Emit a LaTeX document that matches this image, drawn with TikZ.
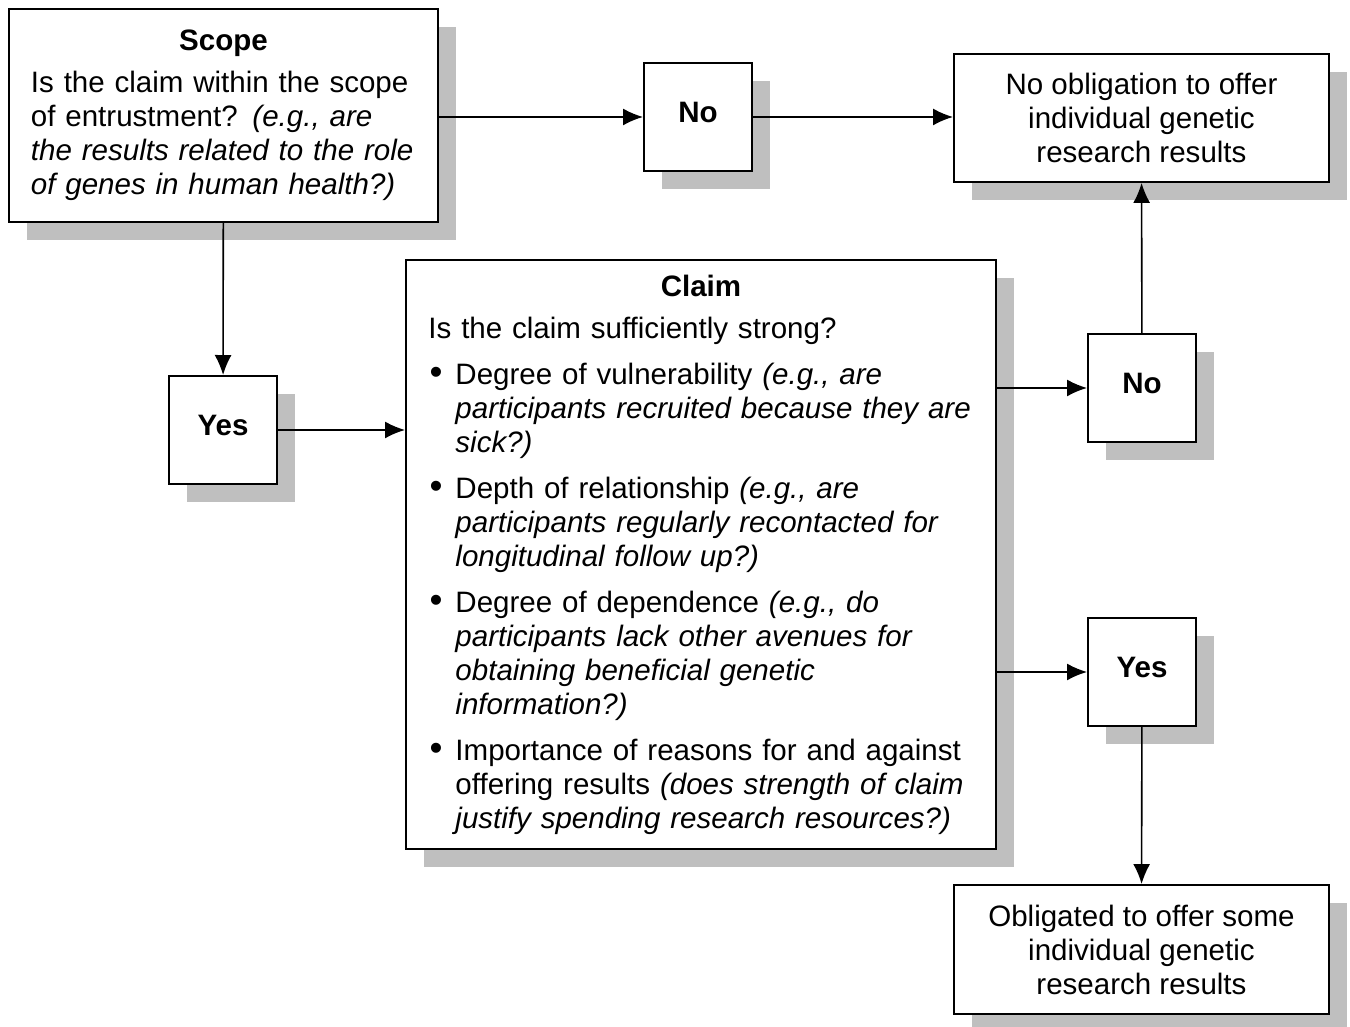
\documentclass[tikz,border=0pt]{standalone}
\usepackage{fontspec}
\setmainfont{Liberation Sans}
\usetikzlibrary{arrows.meta,shadows}

% bullet item with hanging indent
\newcommand{\bullitem}{\par\vspace{0.24cm}\leftskip=0.54cm\noindent\llap{{\fontsize{21}{21}\selectfont\textbullet}\hspace{0.26cm}}}

\begin{document}
\begin{tikzpicture}[font=\fontsize{16.8}{19.35}\selectfont]
    % Define styles for the boxes, the answers and the arrows
    \tikzstyle{box} = [rectangle, draw=black, line width=1.1pt, fill=white, anchor=north west, inner sep=0pt, general shadow={fill=black!25, shadow xshift=0.36cm, shadow yshift=-0.36cm}]
    \tikzstyle{answer} = [box, minimum width=2.16cm, minimum height=2.16cm, text height=0.42cm, text depth=0.2cm]
    \tikzstyle{arrow} = [line width=0.9pt, -{Latex[length=0.4cm, width=0.34cm]}]

    \useasboundingbox (0,0) rectangle (27,-20.52);

    % Draw the question boxes
    \node[box, minimum width=8.58cm, minimum height=4.26cm, text width=7.7cm, align=left] (scope) at (0.16,-0.16) {{\centering\textbf{Scope}\par}\vspace{0.16cm}Is the claim within the scope\\ of entrustment? \textit{(e.g., are}\\ \textit{the results related to the role}\\ \textit{of genes in human health?)}};
    \node[box, minimum width=11.8cm, minimum height=11.78cm, text width=10.9cm, align=left] (claim) at (8.10,-5.18) {{\centering\textbf{Claim}\par}\vspace{0.16cm}Is the claim sufficiently strong?
        \bullitem Degree of vulnerability \textit{(e.g., are}\\ \textit{participants recruited because they are}\\ \textit{sick?)}
        \bullitem Depth of relationship \textit{(e.g., are}\\ \textit{participants regularly recontacted for}\\ \textit{longitudinal follow up?)}
        \bullitem Degree of dependence \textit{(e.g., do}\\ \textit{participants lack other avenues for}\\ \textit{obtaining beneficial genetic}\\ \textit{information?)}
        \bullitem Importance of reasons for and against\\ offering results \textit{(does strength of claim}\\ \textit{justify spending research resources?)}\par};

    % Draw the answers
    \node[answer] (no1) at (12.86,-1.24) {\textbf{No}};
    \node[answer] (yes1) at (3.36,-7.50) {\textbf{Yes}};
    \node[answer] (no2) at (21.74,-6.66) {\textbf{No}};
    \node[answer] (yes2) at (21.74,-12.34) {\textbf{Yes}};

    % Draw the outcomes
    \node[box, minimum width=7.5cm, minimum height=2.56cm, align=center] (nooblig) at (19.06,-1.06) {No obligation to offer\\ individual genetic\\ research results};
    \node[box, minimum width=7.5cm, minimum height=2.58cm, align=center] (oblig) at (19.06,-17.68) {Obligated to offer some\\ individual genetic\\ research results};

    % Draw the arrows
    \draw[arrow] (scope.east |- no1.west) -- (no1.west);
    \draw[arrow] (no1.east) -- (nooblig.west |- no1.east);
    \draw[arrow] (scope) -- (yes1);
    \draw[arrow] (yes1.east) -- (claim.west |- yes1.east);
    \draw[arrow] (claim.east |- no2.west) -- (no2.west);
    \draw[arrow] (no2) -- (nooblig);
    \draw[arrow] (claim.east |- yes2.west) -- (yes2.west);
    \draw[arrow] (yes2) -- (oblig);
\end{tikzpicture}
\end{document}
